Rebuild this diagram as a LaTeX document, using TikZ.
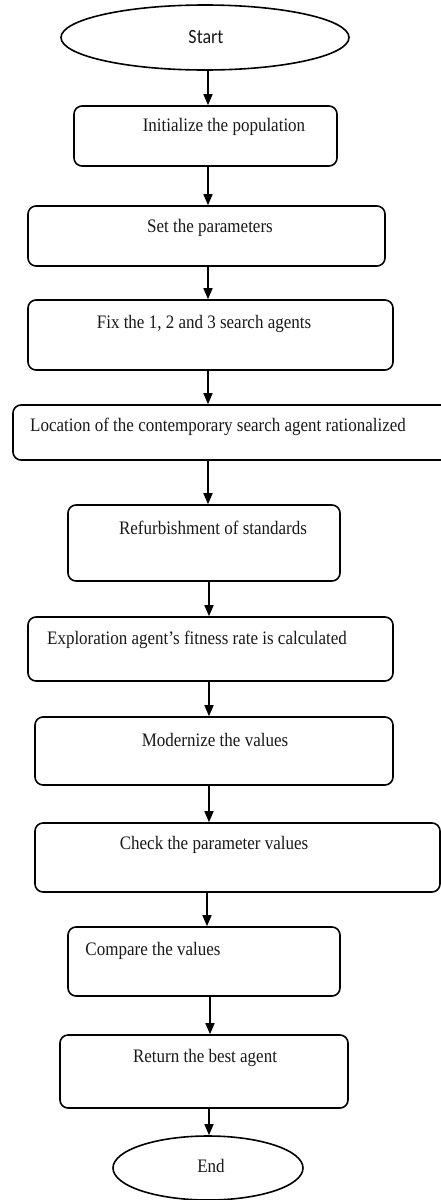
\documentclass[tikz,border=0pt]{standalone}
\usepackage{fontspec}
\setmainfont{Liberation Serif}
\newfontfamily\startfont{Carlito}
\usetikzlibrary{arrows.meta,shapes.geometric}
\tikzset{
  box/.style={draw=black, line width=1.6pt, rounded corners=8pt, inner sep=0pt, fill=white},
  oval/.style={draw=black, line width=1.6pt, ellipse, inner sep=0pt, fill=white},
  txt/.style={inner sep=0pt, font=\fontsize{17}{20}\selectfont, text=black!90, yscale=1.12},
  flow/.style={line width=1.6pt, -{Triangle[length=11pt,width=9pt]}}
}
\begin{document}
\begin{tikzpicture}[x=1pt,y=-1pt]
\useasboundingbox (0,0) rectangle (441,1200);
\clip (0,0) rectangle (441,1200);
\fill[white] (0,0) rectangle (441,1200);
\coordinate (spine) at (208,0);
% shapes
\node[oval, minimum width=288pt, minimum height=65pt] (start) at (205,37.5) {};
\node[box, minimum width=263pt, minimum height=60pt] (init) at (205.5,136) {};
\node[box, minimum width=357pt, minimum height=60pt] (set) at (206.5,236) {};
\node[box, minimum width=365pt, minimum height=70pt] (fix) at (210.5,335) {};
\node[box, minimum width=437pt, minimum height=55pt] (loc) at (231.5,432.5) {};
\node[box, minimum width=272pt, minimum height=76pt] (ref) at (204,543) {};
\node[box, minimum width=365pt, minimum height=64pt] (exp) at (210.5,649) {};
\node[box, minimum width=358pt, minimum height=68pt] (mod) at (214,751) {};
\node[box, minimum width=405pt, minimum height=69pt] (check) at (237.5,857.5) {};
\node[box, minimum width=272pt, minimum height=69pt] (cmp) at (204,961.5) {};
\node[box, minimum width=288pt, minimum height=73pt] (ret) at (204,1071.5) {};
\node[oval, minimum width=190pt, minimum height=64pt] (end) at (208,1168) {};
% texts
\node[txt, font=\startfont\fontsize{18}{20}\selectfont] (tstart) at (206,37) {Start};
\node[txt] (tinit) at (224,127) {Initialize the population};
\node[txt] (tset) at (210,228) {Set the parameters};
\node[txt] (tfix) at (204,324) {Fix the 1, 2 and 3 search agents};
\node[txt] (tloc) at (218,427) {Location of the contemporary search agent rationalized};
\node[txt] (tref) at (213,528) {Refurbishment of standards};
\node[txt] (texp) at (197,640) {Exploration agent’s fitness rate is calculated};
\node[txt] (tmod) at (215,740) {Modernize the values};
\node[txt] (tcheck) at (214,845) {Check the parameter values};
\node[txt] (tcmp) at (153,951) {Compare the values};
\node[txt] (tret) at (205,1058) {Return the best agent};
\node[txt] (tend) at (211,1166) {End};
% connectors
\draw[flow] (start.south -| spine) -- (init.north -| spine);
\draw[flow] (init.south -| spine) -- (set.north -| spine);
\draw[flow] (set.south -| spine) -- (fix.north -| spine);
\draw[flow] (fix.south -| spine) -- (loc.north -| spine);
\draw[flow] (loc.south -| spine) -- (ref.north -| spine);
\draw[flow] ([xshift=1pt]ref.south -| spine) -- ([xshift=1pt]exp.north -| spine);
\draw[flow] ([xshift=1pt]exp.south -| spine) -- ([xshift=1pt]mod.north -| spine);
\draw[flow] ([xshift=1pt]mod.south -| spine) -- ([xshift=1pt]check.north -| spine);
\draw[flow] ([xshift=-1pt]check.south -| spine) -- ([xshift=-1pt]cmp.north -| spine);
\draw[flow] ([xshift=2pt]cmp.south -| spine) -- ([xshift=2pt]ret.north -| spine);
\draw[flow] ([xshift=1pt]ret.south -| spine) -- ([xshift=1pt]end.north -| spine);
\end{tikzpicture}
\end{document}
